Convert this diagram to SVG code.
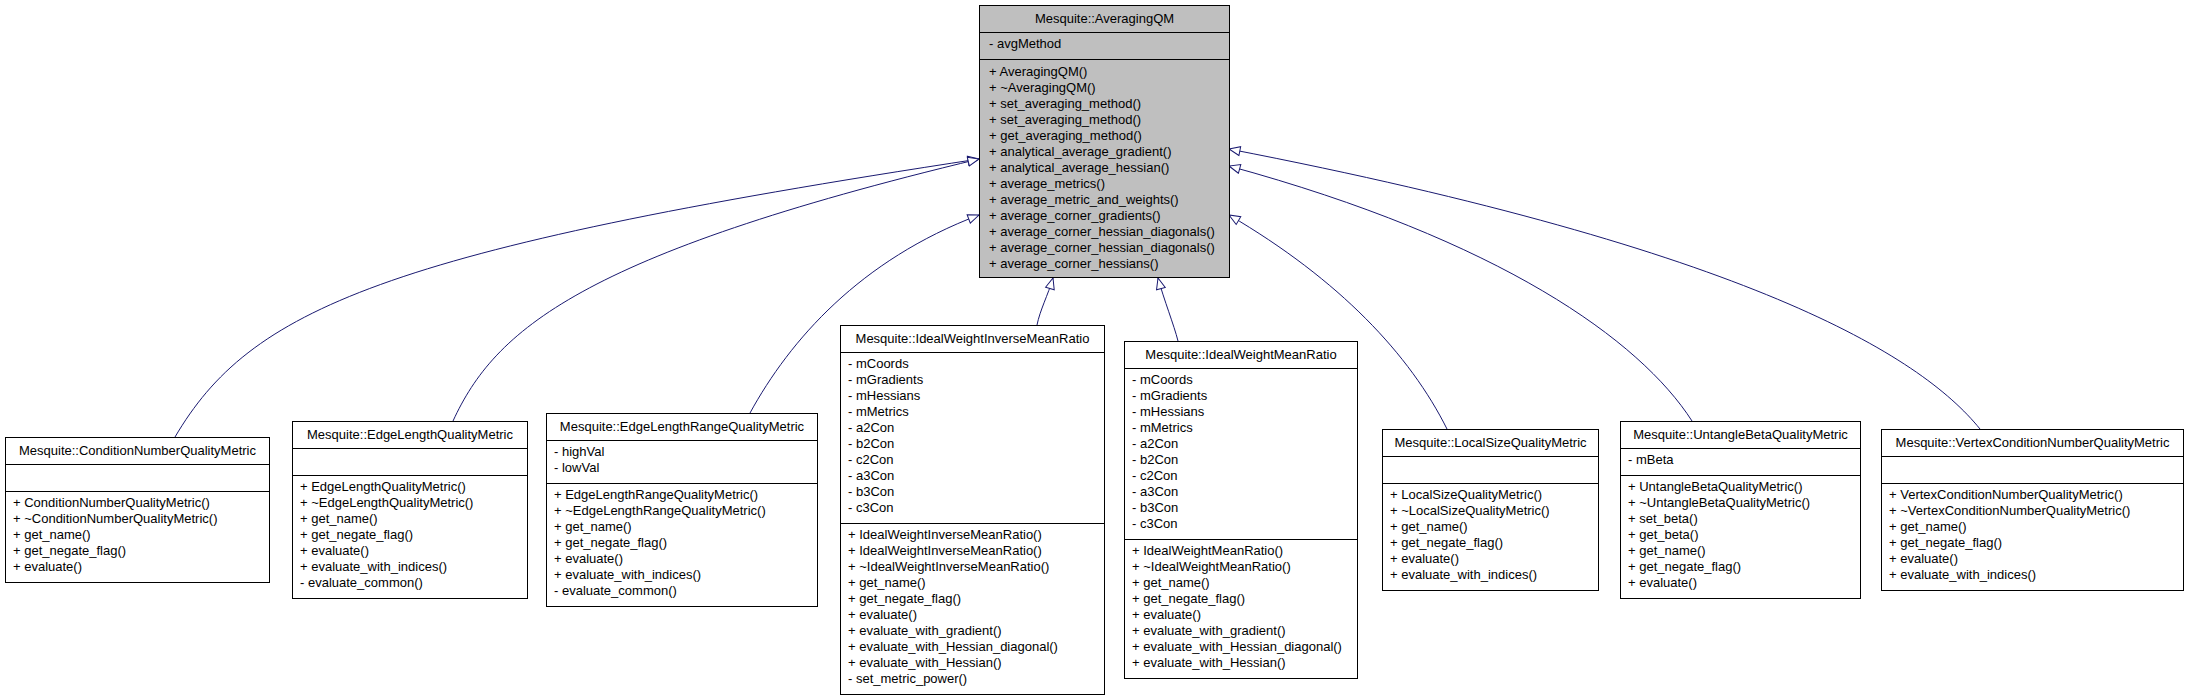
<svg xmlns="http://www.w3.org/2000/svg" width="2189" height="699" viewBox="0 0 2189 699">
<style>
text{font-family:"Liberation Sans",Arial,Helvetica,sans-serif;font-size:13px;fill:#000}
.t{text-anchor:middle}
.box{fill:#fff;stroke:#000;stroke-width:1}
.main{fill:#bfbfbf;stroke:#000;stroke-width:1}
.sep{stroke:#000;stroke-width:1}
.edge{fill:none;stroke:#191970;stroke-width:1;marker-end:url(#inh)}
</style>
<defs>
<marker id="inh" markerUnits="userSpaceOnUse" markerWidth="14" markerHeight="12" viewBox="0 0 14 12" refX="12" refY="6" orient="auto">
<path d="M1,1.5 L12,6 L1,10.5 Z" fill="#fff" stroke="#191970" stroke-width="1"/>
</marker>
</defs>
<rect width="2189" height="699" fill="#fff"/>
<g id="connectors">
<path class="edge" d="M175,437 C250,310 380,250 979,159"/>
<path class="edge" d="M453,421 C495,330 580,255 979,159"/>
<path class="edge" d="M750,413 C790,340 860,260 979,215"/>
<path class="edge" d="M1037,325 C1040,310 1048,295 1053,278"/>
<path class="edge" d="M1178,341 C1174,325 1164,300 1158,278"/>
<path class="edge" d="M1447,429 C1410,355 1340,280 1229,215"/>
<path class="edge" d="M1692,421 C1640,340 1500,240 1229,166"/>
<path class="edge" d="M1980,429 C1920,355 1750,250 1229,149"/>
</g>
<g id="AveragingQM">
<rect class="main" x="979.5" y="5.5" width="250" height="272"/>
<line class="sep" x1="979.5" y1="32.5" x2="1229.5" y2="32.5"/>
<line class="sep" x1="979.5" y1="59.5" x2="1229.5" y2="59.5"/>
<text class="t" x="1104.5" y="23">Mesquite::AveragingQM</text>
<text x="989" y="48">- avgMethod</text>
<text x="989" y="76">+ AveragingQM()</text>
<text x="989" y="92">+ ~AveragingQM()</text>
<text x="989" y="108">+ set_averaging_method()</text>
<text x="989" y="124">+ set_averaging_method()</text>
<text x="989" y="140">+ get_averaging_method()</text>
<text x="989" y="156">+ analytical_average_gradient()</text>
<text x="989" y="172">+ analytical_average_hessian()</text>
<text x="989" y="188">+ average_metrics()</text>
<text x="989" y="204">+ average_metric_and_weights()</text>
<text x="989" y="220">+ average_corner_gradients()</text>
<text x="989" y="236">+ average_corner_hessian_diagonals()</text>
<text x="989" y="252">+ average_corner_hessian_diagonals()</text>
<text x="989" y="268">+ average_corner_hessians()</text>
</g>
<g id="ConditionNumberQualityMetric">
<rect class="box" x="5.5" y="437.5" width="264" height="145"/>
<line class="sep" x1="5.5" y1="464.5" x2="269.5" y2="464.5"/>
<line class="sep" x1="5.5" y1="491.5" x2="269.5" y2="491.5"/>
<text class="t" x="137.5" y="455">Mesquite::ConditionNumberQualityMetric</text>
<text x="13" y="507">+ ConditionNumberQualityMetric()</text>
<text x="13" y="523">+ ~ConditionNumberQualityMetric()</text>
<text x="13" y="539">+ get_name()</text>
<text x="13" y="555">+ get_negate_flag()</text>
<text x="13" y="571">+ evaluate()</text>
</g>
<g id="EdgeLengthQualityMetric">
<rect class="box" x="292.5" y="421.5" width="235" height="177"/>
<line class="sep" x1="292.5" y1="448.5" x2="527.5" y2="448.5"/>
<line class="sep" x1="292.5" y1="475.5" x2="527.5" y2="475.5"/>
<text class="t" x="410" y="439">Mesquite::EdgeLengthQualityMetric</text>
<text x="300" y="491">+ EdgeLengthQualityMetric()</text>
<text x="300" y="507">+ ~EdgeLengthQualityMetric()</text>
<text x="300" y="523">+ get_name()</text>
<text x="300" y="539">+ get_negate_flag()</text>
<text x="300" y="555">+ evaluate()</text>
<text x="300" y="571">+ evaluate_with_indices()</text>
<text x="300" y="587">- evaluate_common()</text>
</g>
<g id="EdgeLengthRangeQualityMetric">
<rect class="box" x="546.5" y="413.5" width="271" height="193"/>
<line class="sep" x1="546.5" y1="440.5" x2="817.5" y2="440.5"/>
<line class="sep" x1="546.5" y1="483.5" x2="817.5" y2="483.5"/>
<text class="t" x="682" y="431">Mesquite::EdgeLengthRangeQualityMetric</text>
<text x="554" y="456">- highVal</text>
<text x="554" y="472">- lowVal</text>
<text x="554" y="499">+ EdgeLengthRangeQualityMetric()</text>
<text x="554" y="515">+ ~EdgeLengthRangeQualityMetric()</text>
<text x="554" y="531">+ get_name()</text>
<text x="554" y="547">+ get_negate_flag()</text>
<text x="554" y="563">+ evaluate()</text>
<text x="554" y="579">+ evaluate_with_indices()</text>
<text x="554" y="595">- evaluate_common()</text>
</g>
<g id="IdealWeightInverseMeanRatio">
<rect class="box" x="840.5" y="325.5" width="264" height="369"/>
<line class="sep" x1="840.5" y1="352.5" x2="1104.5" y2="352.5"/>
<line class="sep" x1="840.5" y1="523.5" x2="1104.5" y2="523.5"/>
<text class="t" x="972.5" y="343">Mesquite::IdealWeightInverseMeanRatio</text>
<text x="848" y="368">- mCoords</text>
<text x="848" y="384">- mGradients</text>
<text x="848" y="400">- mHessians</text>
<text x="848" y="416">- mMetrics</text>
<text x="848" y="432">- a2Con</text>
<text x="848" y="448">- b2Con</text>
<text x="848" y="464">- c2Con</text>
<text x="848" y="480">- a3Con</text>
<text x="848" y="496">- b3Con</text>
<text x="848" y="512">- c3Con</text>
<text x="848" y="539">+ IdealWeightInverseMeanRatio()</text>
<text x="848" y="555">+ IdealWeightInverseMeanRatio()</text>
<text x="848" y="571">+ ~IdealWeightInverseMeanRatio()</text>
<text x="848" y="587">+ get_name()</text>
<text x="848" y="603">+ get_negate_flag()</text>
<text x="848" y="619">+ evaluate()</text>
<text x="848" y="635">+ evaluate_with_gradient()</text>
<text x="848" y="651">+ evaluate_with_Hessian_diagonal()</text>
<text x="848" y="667">+ evaluate_with_Hessian()</text>
<text x="848" y="683">- set_metric_power()</text>
</g>
<g id="IdealWeightMeanRatio">
<rect class="box" x="1124.5" y="341.5" width="233" height="337"/>
<line class="sep" x1="1124.5" y1="368.5" x2="1357.5" y2="368.5"/>
<line class="sep" x1="1124.5" y1="539.5" x2="1357.5" y2="539.5"/>
<text class="t" x="1241" y="359">Mesquite::IdealWeightMeanRatio</text>
<text x="1132" y="384">- mCoords</text>
<text x="1132" y="400">- mGradients</text>
<text x="1132" y="416">- mHessians</text>
<text x="1132" y="432">- mMetrics</text>
<text x="1132" y="448">- a2Con</text>
<text x="1132" y="464">- b2Con</text>
<text x="1132" y="480">- c2Con</text>
<text x="1132" y="496">- a3Con</text>
<text x="1132" y="512">- b3Con</text>
<text x="1132" y="528">- c3Con</text>
<text x="1132" y="555">+ IdealWeightMeanRatio()</text>
<text x="1132" y="571">+ ~IdealWeightMeanRatio()</text>
<text x="1132" y="587">+ get_name()</text>
<text x="1132" y="603">+ get_negate_flag()</text>
<text x="1132" y="619">+ evaluate()</text>
<text x="1132" y="635">+ evaluate_with_gradient()</text>
<text x="1132" y="651">+ evaluate_with_Hessian_diagonal()</text>
<text x="1132" y="667">+ evaluate_with_Hessian()</text>
</g>
<g id="LocalSizeQualityMetric">
<rect class="box" x="1382.5" y="429.5" width="216" height="161"/>
<line class="sep" x1="1382.5" y1="456.5" x2="1598.5" y2="456.5"/>
<line class="sep" x1="1382.5" y1="483.5" x2="1598.5" y2="483.5"/>
<text class="t" x="1490.5" y="447">Mesquite::LocalSizeQualityMetric</text>
<text x="1390" y="499">+ LocalSizeQualityMetric()</text>
<text x="1390" y="515">+ ~LocalSizeQualityMetric()</text>
<text x="1390" y="531">+ get_name()</text>
<text x="1390" y="547">+ get_negate_flag()</text>
<text x="1390" y="563">+ evaluate()</text>
<text x="1390" y="579">+ evaluate_with_indices()</text>
</g>
<g id="UntangleBetaQualityMetric">
<rect class="box" x="1620.5" y="421.5" width="240" height="177"/>
<line class="sep" x1="1620.5" y1="448.5" x2="1860.5" y2="448.5"/>
<line class="sep" x1="1620.5" y1="475.5" x2="1860.5" y2="475.5"/>
<text class="t" x="1740.5" y="439">Mesquite::UntangleBetaQualityMetric</text>
<text x="1628" y="464">- mBeta</text>
<text x="1628" y="491">+ UntangleBetaQualityMetric()</text>
<text x="1628" y="507">+ ~UntangleBetaQualityMetric()</text>
<text x="1628" y="523">+ set_beta()</text>
<text x="1628" y="539">+ get_beta()</text>
<text x="1628" y="555">+ get_name()</text>
<text x="1628" y="571">+ get_negate_flag()</text>
<text x="1628" y="587">+ evaluate()</text>
</g>
<g id="VertexConditionNumberQualityMetric">
<rect class="box" x="1881.5" y="429.5" width="302" height="161"/>
<line class="sep" x1="1881.5" y1="456.5" x2="2183.5" y2="456.5"/>
<line class="sep" x1="1881.5" y1="483.5" x2="2183.5" y2="483.5"/>
<text class="t" x="2032.5" y="447">Mesquite::VertexConditionNumberQualityMetric</text>
<text x="1889" y="499">+ VertexConditionNumberQualityMetric()</text>
<text x="1889" y="515">+ ~VertexConditionNumberQualityMetric()</text>
<text x="1889" y="531">+ get_name()</text>
<text x="1889" y="547">+ get_negate_flag()</text>
<text x="1889" y="563">+ evaluate()</text>
<text x="1889" y="579">+ evaluate_with_indices()</text>
</g>
</svg>
